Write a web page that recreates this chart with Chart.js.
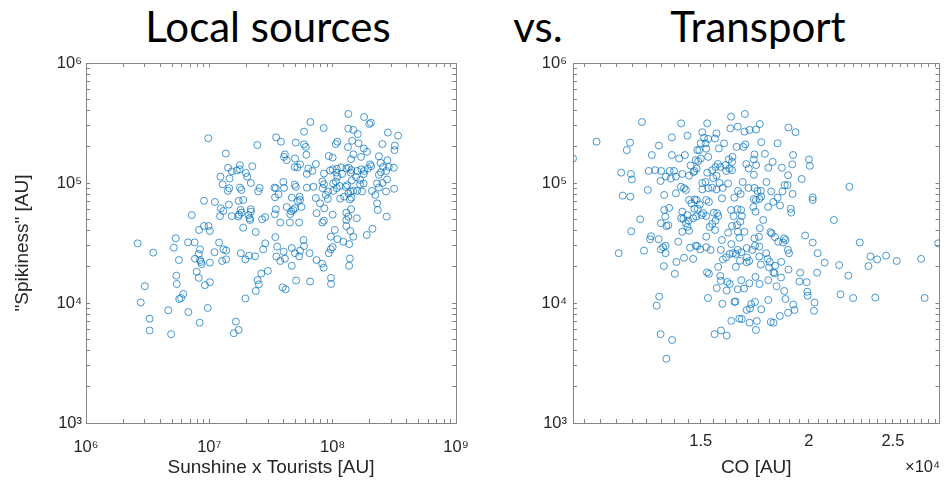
<!DOCTYPE html>
<html>
<head>
<meta charset="utf-8">
<title>Local sources vs. Transport</title>
<script src="https://cdn.jsdelivr.net/npm/chart.js@4.4.0/dist/chart.umd.min.js"></script>
<style>
  html, body { margin: 0; padding: 0; background: #fff; }
  #wrap { position: relative; width: 944px; height: 480px; overflow: hidden; }
  .panel { position: absolute; top: 0; height: 480px; }
  .head { position: absolute; top: 5px; transform: translateX(-50%); white-space: nowrap;
          font: 400 42px/42px Lato, "Open Sans", sans-serif; color: #000; }
  #expo { position: absolute; left: 905px; top: 458px; font: 16.5px/16.5px "Liberation Sans", Arial, sans-serif; color: #262626; }
</style>
</head>
<body>
<div id="wrap">
  <div class="head" style="left:268px">Local sources</div>
  <div class="head" style="left:538px">vs.</div>
  <div class="head" style="left:758px">Transport</div>
  <div class="panel" style="left:0;width:470px"><canvas id="localChart"></canvas></div>
  <div class="panel" style="left:480px;width:464px"><canvas id="transportChart"></canvas></div>
  <div id="expo">×10⁴</div>
</div>
<script>
// Left panel: Sunshine x Tourists vs "Spikiness"   [x, y]
const localPts = [
  [1.34e8,3.76e5],[1.8e8,3.55e5],[2.04e8,3.18e5],[1.98e8,3.1e5],[6.6e7,3.22e5],[8.45e7,2.87e5],[1.34e8,2.84e5],
  [1.47e8,2.77e5],[5.86e7,2.68e5],[1.6e8,2.56e5],[2.8e8,2.63e5],[3.39e8,2.48e5],[9.8e6,2.36e5],[3.48e7,2.4e5],
  [3.81e7,2.21e5],[1.44e8,2.25e5],[1.09e8,2.21e5],[1.06e8,2.11e5],[5.02e7,2.17e5],[2.45e7,2.07e5],[5.86e7,2.1e5],
  [6.05e7,2.0e5],[1.62e8,2.14e5],[2.53e8,2.11e5],[3.19e8,2.05e5],[3.17e8,1.88e5],[1.33e8,1.99e5],[1.79e8,1.94e5],
  [1.9e8,1.82e5],[1.36e7,1.76e5],[6.12e7,1.72e5],[4.1e7,1.73e5],[4.03e7,1.65e5],[4.24e7,1.55e5],[9.3e7,1.68e5],
  [1.0e8,1.63e5],[1.47e8,1.73e5],[1.41e8,1.58e5],[1.7e8,1.65e5],[2.37e8,1.67e5],[4.95e7,1.6e5],[2.78e8,1.55e5],
  [2.45e8,1.47e5],[5.44e7,1.43e5],[4.92e7,1.36e5],[5.17e7,1.35e5],[7.3e7,1.44e5],[2.01e8,1.43e5],[2.05e8,1.38e5],
  [1.93e8,1.32e5],[1.8e8,1.26e5],[1.77e7,1.41e5],[1.76e7,1.3e5],[1.67e7,1.27e5],[1.52e7,1.25e5],[2.23e7,1.38e5],
  [1.42e7,1.34e5],[6.35e7,1.32e5],[6.85e7,1.26e5],[1.0e8,1.3e5],[9.53e7,1.27e5],[1.08e8,1.31e5],[1.17e8,1.35e5],
  [1.29e8,1.32e5],[1.35e8,1.34e5],[1.42e8,1.28e5],[1.58e8,1.26e5],[1.71e8,1.3e5],[2.56e8,1.36e5],[2.85e8,1.36e5],
  [3.13e8,1.34e5],[2.46e8,1.23e5],[2.72e8,1.26e5],[6.17e7,1.19e5],[8.5e7,1.2e5],[1.07e8,1.22e5],[1.19e8,1.19e5],
  [1.09e8,1.13e5],[1.4e8,1.22e5],[1.55e8,1.12e5],[1.43e8,1.05e5],[1.67e8,1.06e5],[1.79e8,1.19e5],[1.98e7,1.21e5],
  [2.03e7,1.13e5],[1.23e7,1.13e5],[1.46e7,1.09e5],[2.17e7,1.0e5],[1.28e7,9.75e4],[2.37e8,1.17e5],[2.76e8,1.07e5],
  [2.53e8,1.0e5],[2.29e8,9.9e4],[8.25e7,1.03e5],[8.5e7,9.75e4],[1.06e8,1.03e5],[1.01e8,9.9e4],[1.14e8,9.45e4],
  [1.31e8,9.6e4],[1.28e8,9.3e4],[3.98e7,1.02e5],[4.92e7,9.7e4],[5.02e7,9.3e4],[3.37e7,9.15e4],[3.46e7,9.05e4],
  [4.03e7,9.1e4],[6.17e7,9.15e4],[6.98e7,9.3e4],[1.67e8,9.75e4],[1.78e8,9.9e4],[1.77e7,9.15e4],[1.82e7,8.75e4],
  [2.56e7,9.1e4],[2.49e7,8.5e4],[1.41e7,8.6e4],[1.45e7,9.05e4],[8.3e7,9.05e4],[9.2e7,8.5e4],[1.01e8,8.6e4],
  [1.08e8,9.05e4],[1.34e8,8.2e4],[1.4e8,8.5e4],[1.47e8,8.6e4],[1.73e8,8.5e4],[1.58e8,8.6e4],[2.08e8,8.6e4],
  [2.37e8,9.15e4],[2.71e8,8.5e4],[3.15e8,8.95e4],[3.64e7,8.05e4],[3.41e7,7.6e4],[5.4e7,7.7e4],[4.66e7,7.55e4],
  [7.3e7,7.5e4],[8.8e7,7.95e4],[9.13e7,7.35e4],[1.15e8,7.4e4],[1.24e8,7.7e4],[1.38e8,7.3e4],[1.42e8,7.55e4],
  [2.22e8,7.95e4],[9.05e6,7.1e4],[1.11e7,6.95e4],[1.73e7,7.1e4],[1.88e7,7.22e4],[5.22e7,7.08e4],[5.44e7,7.22e4],
  [7.9e7,6.77e4],[1.44e7,6.6e4],[4.24e7,6.3e4],[4.8e7,5.96e4],[4.95e7,6.17e4],[5.58e7,6.31e4],[8.55e7,6.15e4],
  [2.29e8,6.77e4],[2.32e8,5.96e4],[1.24e7,6.15e4],[1.3e7,5.85e4],[1.79e7,5.96e4],[1.82e7,5.66e4],[1.74e7,5.45e4],
  [1.72e7,5.25e4],[2.17e7,6.05e4],[2.17e7,5.77e4],[2.08e7,5.4e4],[2.12e7,5.08e4],[2.14e7,4.92e4],[3.46e7,6.05e4],
  [3.4e7,5.5e4],[4.61e7,5.8e4],[4.53e7,5.5e4],[7.4e7,5.6e4],[1.0e8,5.45e4],[1.29e8,5.66e4],[1.41e8,6.05e4],
  [1.34e8,5.25e4],[1.57e8,5.08e4],[7.2e6,5.4e4],[1.22e7,5.3e4],[1.52e7,5.3e4],[2.68e7,4.98e4],[2.84e7,5.2e4],
  [3.76e7,4.68e4],[4.5e7,4.68e4],[5.35e7,4.68e4],[2.74e8,5.25e4],[8.25e7,4.68e4],[8.5e7,4.85e4],[1.29e8,4.92e4],
  [1.29e8,4.38e4],[9.05e6,4.38e4],[9.85e6,4.38e4],[1.01e7,3.98e4],[8.25e6,4.06e4],[1.88e7,4.24e4],[2.38e7,3.9e4],
  [1.04e8,4.06e4],[1.39e8,3.98e4],[2.1e8,4.15e4],[1.89e8,3.69e4],[5.34e6,3.46e4],[6.72e6,3.2e4],[7.6e6,3.2e4],
  [3.43e7,3.54e4],[5.8e7,3.35e4],[5.86e7,2.98e4],[9.65e7,3.57e4],[1.09e8,3.4e4],[1.22e8,3.24e4],[1.36e8,3.1e4],
  [1.47e8,3.57e4],[2.84e7,3.14e4],[1.2e7,3.19e4],[2.62e6,3.14e4],[3.51e6,2.63e4],[5.15e6,2.89e4],[5.67e6,2.28e4],
  [8.4e6,2.8e4],[8.2e6,2.56e4],[7.65e6,2.34e4],[8.55e6,2.2e4],[8.67e6,2.11e4],[8.4e6,2.28e4],[1.01e7,2.17e4],
  [1.1e7,2.65e4],[1.3e7,2.8e4],[1.37e7,2.74e4],[1.27e7,2.24e4],[1.37e7,2.31e4],[1.8e7,2.6e4],[1.96e7,2.31e4],
  [2.1e7,2.48e4],[2.35e7,2.45e4],[2.73e7,2.8e4],[3.55e7,2.95e4],[3.5e7,2.44e4],[4.0e7,2.68e4],[3.76e7,2.24e4],
  [4.1e7,2.34e4],[4.66e7,2.87e4],[4.95e7,2.6e4],[5.35e7,2.45e4],[5.44e7,2.73e4],[6.5e7,2.6e4],[4.66e7,2.04e4],
  [7.4e7,2.28e4],[8.2e7,2.13e4],[8.45e7,1.97e4],[9.3e7,2.6e4],[9.65e7,2.8e4],[1.0e8,2.92e4],[1.38e8,2.35e4],
  [1.36e8,2.04e4],[5.4e6,1.69e4],[5.45e6,1.44e4],[3.0e6,1.38e4],[2.78e6,1.01e4],[6.15e6,1.19e4],[5.9e6,1.1e4],
  [5.7e6,1.08e4],[7.9e6,1.82e4],[8.2e6,1.62e4],[9.2e6,1.41e4],[1.01e7,1.49e4],[9.7e6,9.1e3],[4.65e6,8.7e3],
  [6.76e6,8.4e3],[3.28e6,7.4e3],[3.28e6,5.9e3],[4.9e6,5.5e3],[8.35e6,6.85e3],[1.64e7,7.0e3],[1.73e7,5.96e3],
  [1.58e7,5.6e3],[1.96e7,1.09e4],[2.38e7,1.26e4],[2.52e7,1.43e4],[2.46e7,1.55e4],[2.64e7,1.76e4],[2.98e7,1.85e4],
  [3.93e7,1.35e4],[4.16e7,1.3e4],[5.05e7,1.54e4],[6.56e7,1.51e4],[9.7e7,1.62e4],[9.7e7,1.44e4]
];

// Right panel: CO vs "Spikiness"   [x, y]
const transportPts = [
  [1.068e4,1.6e5],[1.137e4,2.21e5],[1.283e4,3.22e5],[1.243e4,2.17e5],[1.232e4,1.88e5],[1.214e4,1.22e5],[1.246e4,1.19e5],
  [1.249e4,1.07e5],[1.219e4,7.85e4],[1.244e4,7.7e4],[1.303e4,8.75e4],[1.277e4,4.98e4],[1.247e4,3.96e4],[1.317e4,1.71e5],
  [1.342e4,2.05e5],[1.389e4,2.4e5],[1.424e4,3.14e5],[1.448e4,2.48e5],[1.389e4,1.71e5],[1.416e4,1.6e5],[1.438e4,1.71e5],
  [1.306e4,1.26e5],[1.329e4,1.28e5],[1.35e4,1.26e5],[1.348e4,1.04e5],[1.367e4,1.13e5],[1.381e4,1.26e5],[1.397e4,1.26e5],
  [1.385e4,1.09e5],[1.404e4,1.13e5],[1.428e4,1.19e5],[1.454e4,1.15e5],[1.46e4,1.4e5],[1.475e4,1.26e5],[1.48e4,1.55e5],
  [1.486e4,1.88e5],[1.49e4,1.52e5],[1.506e4,2.65e5],[1.526e4,3.14e5],[1.513e4,2.38e5],[1.53e4,2.33e5],[1.519e4,2.14e5],
  [1.5e4,2.14e5],[1.564e4,2.59e5],[1.558e4,2.35e5],[1.494e4,1.88e5],[1.522e4,1.93e5],[1.53e4,1.65e5],[1.5e4,1.6e5],
  [1.626e4,3.57e5],[1.687e4,3.76e5],[1.623e4,2.85e5],[1.655e4,2.95e5],[1.685e4,2.68e5],[1.708e4,2.77e5],[1.738e4,2.79e5],
  [1.755e4,3.1e5],[1.596e4,2.14e5],[1.574e4,1.94e5],[1.65e4,2.0e5],[1.68e4,2.0e5],[1.689e4,2.1e5],[1.632e4,1.65e5],
  [1.616e4,1.57e5],[1.602e4,1.41e5],[1.63e4,1.5e5],[1.619e4,1.32e5],[1.63e4,1.28e5],[1.605e4,1.26e5],[1.56e4,1.36e5],
  [1.57e4,1.44e5],[1.58e4,1.36e5],[1.546e4,1.28e5],[1.526e4,1.22e5],[1.55e4,1.1e5],[1.564e4,1.15e5],[1.506e4,1.0e5],
  [1.519e4,1.02e5],[1.53e4,9.05e4],[1.506e4,8.85e4],[1.546e4,9.15e4],[1.564e4,8.85e4],[1.59e4,9.1e4],[1.577e4,1.0e5],
  [1.613e4,9.9e4],[1.484e4,1.32e5],[1.471e4,1.23e5],[1.73e4,1.73e5],[1.727e4,1.57e5],[1.693e4,1.44e5],[1.704e4,1.32e5],
  [1.738e4,1.41e5],[1.728e4,1.17e5],[1.779e4,1.75e5],[1.795e4,1.34e5],[1.816e4,1.5e5],[1.84e4,2.14e5],[1.762e4,2.19e5],
  [1.861e4,1.34e5],[1.892e4,1.16e5],[1.913e4,1.43e5],[1.917e4,1.71e5],[1.93e4,2.65e5],[1.894e4,2.9e5],[2.0e4,1.57e5],
  [2.005e4,1.39e5],[1.962e4,1.08e5],[1.889e4,9.6e4],[1.677e4,1.02e5],[1.656e4,8.6e4],[1.64e4,7.55e4],[1.668e4,8.1e4],
  [1.703e4,9.1e4],[1.73e4,9.1e4],[1.737e4,7.22e4],[1.727e4,7.35e4],[1.753e4,7.35e4],[1.744e4,8.6e4],[1.76e4,8.6e4],
  [1.762e4,7.7e4],[1.786e4,1.02e5],[1.809e4,8.5e4],[1.794e4,6.31e4],[1.819e4,6.95e4],[1.84e4,7.55e4],[1.852e4,6.5e4],
  [1.864e4,8.5e4],[1.915e4,8.1e4],[1.875e4,9.6e4],[2.02e4,7.6e4],[2.02e4,7.22e4],[2.227e4,9.3e4],[2.137e4,4.92e4],
  [1.905e4,6.1e4],[1.908e4,5.66e4],[1.361e4,7.95e4],[1.404e4,8.2e4],[1.442e4,8.75e4],[1.423e4,9.3e4],[1.435e4,9.05e4],
  [1.454e4,7.22e4],[1.476e4,7.3e4],[1.463e4,6.77e4],[1.484e4,7.22e4],[1.475e4,6.1e4],[1.488e4,6.1e4],[1.496e4,6.6e4],
  [1.379e4,6.2e4],[1.361e4,5.96e4],[1.365e4,5.25e4],[1.349e4,4.62e4],[1.369e4,4.38e4],[1.376e4,4.45e4],[1.428e4,5.77e4],
  [1.432e4,5.03e4],[1.448e4,5.4e4],[1.452e4,4.85e4],[1.424e4,5.08e4],[1.442e4,4.62e4],[1.448e4,4.3e4],[1.454e4,4.0e4],
  [1.428e4,3.92e4],[1.51e4,5.6e4],[1.503e4,5.4e4],[1.522e4,5.3e4],[1.553e4,5.66e4],[1.571e4,5.3e4],[1.567e4,5.6e4],
  [1.56e4,4.85e4],[1.536e4,4.3e4],[1.546e4,4.56e4],[1.558e4,4.06e4],[1.482e4,5.25e4],[1.47e4,5.08e4],[1.314e4,3.6e4],
  [1.311e4,3.4e4],[1.341e4,3.4e4],[1.413e4,3.24e4],[1.366e4,3.0e4],[1.357e4,2.92e4],[1.522e4,3.57e4],[1.587e4,3.35e4],
  [1.627e4,3.1e4],[1.613e4,3.85e4],[1.662e4,3.5e4],[1.656e4,3.92e4],[1.685e4,3.92e4],[1.626e4,5.96e4],[1.637e4,5.3e4],
  [1.654e4,6.05e4],[1.67e4,5.96e4],[1.673e4,5.3e4],[1.666e4,4.77e4],[1.63e4,4.38e4],[1.652e4,4.46e4],[1.725e4,6.31e4],
  [1.735e4,5.77e4],[1.771e4,4.92e4],[1.755e4,4.2e4],[1.811e4,3.8e4],[1.805e4,3.9e4],[1.827e4,3.54e4],[1.843e4,3.24e4],
  [1.872e4,3.46e4],[1.867e4,3.19e4],[1.879e4,3.35e4],[1.98e4,3.65e4],[2.02e4,3.19e4],[2.289e4,3.19e4],[1.587e4,7.45e4],
  [1.522e4,7.22e4],[1.533e4,6.95e4],[1.206e4,2.6e4],[1.29e4,2.73e4],[1.349e4,2.8e4],[1.366e4,2.6e4],[1.406e4,2.2e4],
  [1.4e4,1.75e4],[1.36e4,2.03e4],[1.435e4,2.38e4],[1.47e4,2.33e4],[1.458e4,2.89e4],[1.48e4,3.0e4],[1.486e4,2.98e4],
  [1.498e4,2.8e4],[1.522e4,2.92e4],[1.54e4,2.77e4],[1.582e4,2.77e4],[1.655e4,2.77e4],[1.671e4,2.65e4],[1.695e4,2.87e4],
  [1.72e4,2.77e4],[1.733e4,3.0e4],[1.753e4,2.95e4],[1.73e4,3.46e4],[1.751e4,3.57e4],[1.591e4,2.31e4],[1.605e4,2.4e4],
  [1.62e4,2.56e4],[1.634e4,2.6e4],[1.647e4,2.56e4],[1.665e4,2.25e4],[1.695e4,2.18e4],[1.706e4,2.24e4],[1.696e4,2.4e4],
  [1.753e4,2.44e4],[1.76e4,2.09e4],[1.785e4,2.6e4],[1.792e4,2.33e4],[1.802e4,2.2e4],[1.799e4,1.98e4],[1.82e4,1.8e4],
  [1.825e4,1.77e4],[1.828e4,2.04e4],[1.891e4,2.77e4],[1.897e4,2.6e4],[1.858e4,2.2e4],[1.894e4,1.9e4],[1.571e4,2.0e4],
  [1.525e4,1.8e4],[1.533e4,1.75e4],[1.58e4,1.68e4],[1.582e4,1.53e4],[1.565e4,1.33e4],[1.62e4,1.44e4],[1.61e4,1.5e4],
  [1.607e4,1.27e4],[1.647e4,2.0e4],[1.671e4,1.55e4],[1.683e4,1.32e4],[1.707e4,1.46e4],[1.655e4,1.3e4],[1.735e4,1.65e4],
  [1.754e4,1.44e4],[1.795e4,1.55e4],[1.835e4,1.38e4],[1.857e4,1.63e4],[1.873e4,1.26e4],[1.954e4,1.79e4],[2.047e4,2.6e4],
  [2.085e4,2.17e4],[2.044e4,1.79e4],[1.988e4,1.49e4],[1.95e4,1.51e4],[1.991e4,1.24e4],[1.993e4,1.15e4],[2.03e4,1.01e4],
  [2.027e4,8.6e3],[2.167e4,2.07e4],[2.221e4,1.69e4],[2.175e4,1.18e4],[2.25e4,1.1e4],[2.355e4,2.44e4],[2.343e4,2.03e4],
  [2.398e4,2.31e4],[2.455e4,2.48e4],[2.526e4,2.24e4],[2.386e4,1.11e4],[2.695e4,2.33e4],[2.72e4,1.1e4],[2.82e4,3.14e4],
  [1.334e4,9.5e3],[1.343e4,1.13e4],[1.529e4,1.1e4],[1.589e4,9.85e3],[1.641e4,1.02e4],[1.645e4,1.03e4],[1.733e4,1.02e4],
  [1.715e4,9.8e3],[1.695e4,8.75e3],[1.71e4,9.0e3],[1.762e4,8.85e3],[1.795e4,1.06e4],[1.879e4,1.08e4],[1.918e4,9.7e3],
  [1.925e4,8.75e3],[1.892e4,8.3e3],[1.851e4,7.8e3],[1.627e4,7.1e3],[1.662e4,7.4e3],[1.673e4,7.35e3],[1.708e4,6.85e3],
  [1.741e4,7.08e3],[1.737e4,5.96e3],[1.807e4,6.95e3],[1.82e4,6.85e3],[1.556e4,5.5e3],[1.583e4,5.9e3],[1.607e4,5.35e3],
  [1.348e4,5.5e3],[1.39e4,4.92e3],[1.369e4,3.43e3]
];

// Axis ranges and labelled ticks
const localXRange = [1e6, 1e9];
const spikeRange = [1e3, 1e6];
const coRange = [1.068e4, 2.83e4];
const localXMajor = [1e6, 1e7, 1e8, 1e9];
const localXLabels = ['10⁶', '10⁷', '10⁸', '10⁹'];
const spikeMajor = [1e3, 1e4, 1e5, 1e6];
const spikeLabels = ['10³', '10⁴', '10⁵', '10⁶'];
const coMajor = [1.5e4, 2e4, 2.5e4];
const coLabels = ['1.5', '2', '2.5'];
const coMinorStep = 500;

const AXIS_GREY = '#858585';
const TEXT = '#262626';
const MARK = 'rgba(0,114,189,0.72)';
const SANS = '"Liberation Sans", Arial, sans-serif';

// 1..9 x 10^n between two powers of ten
function decadeTicks(lo, hi) {
    const out = [];
    for (let p = lo; p < hi; p *= 10) {
        for (let m = 1; m < 10; m++) out.push(m * p);
    }
    out.push(hi);
    return out;
}

function stepTicks(min, max, step) {
    const out = [];
    for (let v = Math.ceil(min / step) * step; v <= max; v += step) out.push(Math.round(v));
    return out;
}

function buildAxis(o) {
    const labelOf = new Map((o.major || []).map((v, i) => [v, o.labels[i]]));
    return {
        type: 'logarithmic',
        position: o.position,
        min: o.range[0],
        max: o.range[1],
        afterBuildTicks: scale => { scale.ticks = o.ticks.map(v => ({ value: v })); },
        afterFit: scale => {
            if (scale.isHorizontal()) scale.height = o.size; else scale.width = o.size;
            // keep the plot box where it is, labels may overhang
            scale.paddingLeft = scale.paddingRight = scale.paddingTop = scale.paddingBottom = 0;
        },
        grid: { drawOnChartArea: false, drawTicks: true, tickLength: -4, tickColor: AXIS_GREY, lineWidth: 1 },
        border: { display: true, color: AXIS_GREY, width: 1 },
        ticks: {
            display: !!o.labels,
            autoSkip: false,
            maxRotation: 0,
            minRotation: 0,
            padding: o.pad || 0,
            color: TEXT,
            font: { family: SANS, size: 16.5 },
            callback: v => labelOf.get(v) || ''
        },
        title: o.title ? {
            display: true,
            text: o.title,
            color: TEXT,
            font: { family: SANS, size: 19 },
            padding: o.titlePad
        } : { display: false }
    };
}

function scatterChart(id, pts, scales, padding) {
    return new Chart(document.getElementById(id), {
        type: 'scatter',
        data: {
            datasets: [{
                data: pts.map(p => ({ x: p[0], y: p[1] })),
                pointStyle: 'circle',
                pointRadius: 3.5,
                pointHoverRadius: 3.5,
                borderWidth: 1,
                borderColor: MARK,
                backgroundColor: 'rgba(0,0,0,0)'
            }]
        },
        options: {
            responsive: true,
            maintainAspectRatio: false,
            animation: false,
            layout: { padding },
            plugins: { legend: { display: false }, tooltip: { enabled: false } },
            scales
        }
    });
}

const spikeTicks = decadeTicks(1e3, 1e6);
const localXTicks = decadeTicks(1e6, 1e9);
const coTicks = stepTicks(coRange[0], coRange[1], coMinorStep);

scatterChart('localChart', localPts, {
    x: buildAxis({ position: 'bottom', range: localXRange, ticks: localXTicks, major: localXMajor, labels: localXLabels,
                   size: 57, pad: 19, title: 'Sunshine x Tourists [AU]', titlePad: { top: 0, bottom: 1 } }),
    y: buildAxis({ position: 'left', range: spikeRange, ticks: spikeTicks, major: spikeMajor, labels: spikeLabels,
                   size: 86, pad: 8, title: '"Spikiness" [AU]', titlePad: { top: 11, bottom: 0 } }),
    x2: buildAxis({ position: 'top', range: localXRange, ticks: localXTicks, size: 0 }),
    y2: buildAxis({ position: 'right', range: spikeRange, ticks: spikeTicks, size: 0 })
}, { top: 63, right: 14, bottom: 0, left: 0 });

scatterChart('transportChart', transportPts, {
    x: buildAxis({ position: 'bottom', range: coRange, ticks: coTicks, major: coMajor, labels: coLabels,
                   size: 57, pad: 13, title: 'CO [AU]', titlePad: { top: 0, bottom: 1 } }),
    y: buildAxis({ position: 'left', range: spikeRange, ticks: spikeTicks, major: spikeMajor, labels: spikeLabels,
                   size: 93, pad: 10 }),
    x2: buildAxis({ position: 'top', range: coRange, ticks: coTicks, size: 0 }),
    y2: buildAxis({ position: 'right', range: spikeRange, ticks: spikeTicks, size: 0 })
}, { top: 63, right: 1, bottom: 0, left: 0 });
</script>
</body>
</html>
